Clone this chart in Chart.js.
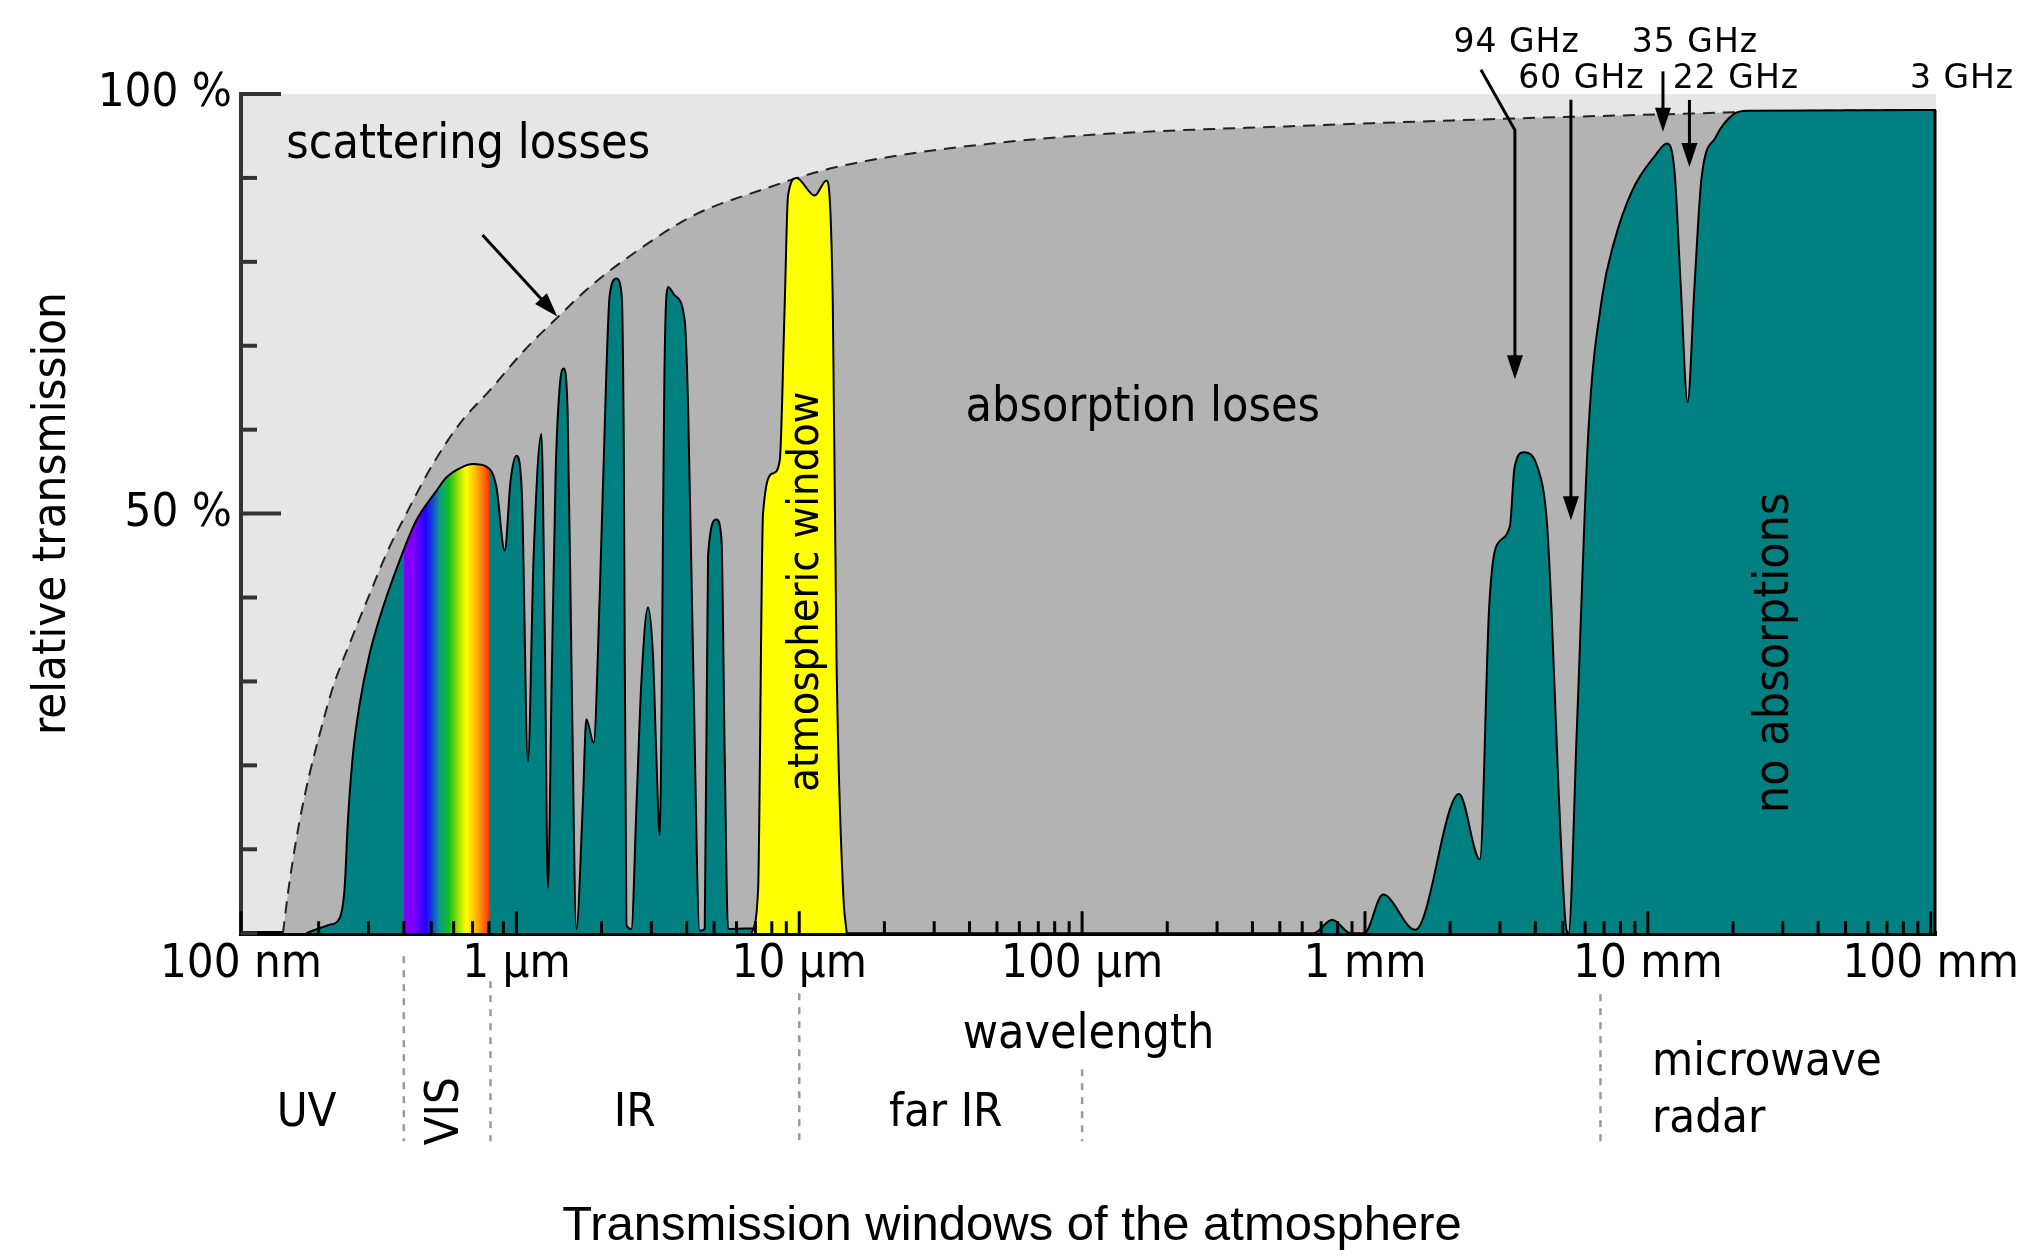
<!DOCTYPE html>
<html>
<head>
<meta charset="utf-8">
<title>Transmission windows of the atmosphere</title>
<script src="https://cdn.jsdelivr.net/npm/chart.js@4.4.1/dist/chart.umd.min.js"></script>
<style>
  html, body { margin: 0; padding: 0; background: #fff; }
  #wrap { width: 2024px; height: 1258px; }
</style>
</head>
<body>
<div id="wrap"><canvas id="atmosChart" width="2024" height="1258"></canvas></div>
<script>
// wavelengths in µm, transmission in %
const tealWavelength = [0.1809, 0.2016, 0.2187, 0.2372, 0.2471, 0.2538, 0.2644, 0.2792, 0.3029, 0.3375,
  0.3866, 0.4430, 0.5214, 0.5655, 0.6302, 0.7023, 0.7834, 0.8497, 0.9092, 0.9546, 1.0, 1.044, 1.099,
  1.151, 1.226, 1.259, 1.293, 1.333, 1.377, 1.422, 1.470, 1.518, 1.569,
  1.630, 1.716, 1.768, 1.876, 1.970, 2.081, 2.137, 2.258, 2.357, 2.395,
  2.449, 2.551, 2.657, 2.767, 2.920, 3.041, 3.126, 3.212, 3.346, 3.437,
  3.629, 3.937, 4.045, 4.213, 4.448, 4.634, 4.760, 5.096, 5.308, 5.453,
  5.601, 7.25, 15.09, 658.6, 765.6, 890.1, 996, 1157, 1506, 2151,
  2549, 2747, 2904, 3253, 3379, 3640, 4076, 4397, 4562, 4826,
  5108, 5243, 5615, 6161, 6900, 7577, 8810, 10630, 11677, 12437,
  13062, 13823, 14630, 15470, 17330, 20130, 22540, 104400];
const tealTransmission = [0, 0.6, 1, 1.8, 5.4, 13.4, 21.3, 27.3, 33.3, 38.8,
  44.4, 49.2, 52.7, 54.3, 55.4, 55.9, 55.6, 53.2, 45.6, 54, 56.9, 53, 20.5,
  45, 59.5, 37, 5.4, 30, 55, 65, 67.3, 62, 30,
  0.5, 15, 25.5, 22.7, 40, 67, 76, 78, 76, 60,
  1, 0.5, 15, 30, 38.8, 33, 21, 11.7, 69, 77,
  76, 73, 63, 33, 0.3, 0.5, 45, 49.3, 47, 21,
  0.5, 0.6, 0, 0, 1.6, 0, 0, 4.6, 0.4, 16.6,
  8.8, 38.7, 46, 48.5, 55.5, 57.3, 55.5, 49, 38.7, 17.7,
  1.5, 0, 24.6, 59.7, 75.9, 82.2, 88.5, 92.7, 94.1, 90.6,
  77.3, 63.3, 77.3, 89.9, 94.8, 97.6, 98, 98.1];

const windowWavelength = [6.776, 7.151, 7.447, 8.079, 8.531, 8.887, 9.129, 9.775, 11.34, 12.48, 13.14, 13.54, 14.29, 14.72];
const windowTransmission = [0, 5, 50, 54.8, 56.3, 75, 87.9, 90, 87.9, 89.7, 75, 33, 5, 0];

const scatterWavelength = [0.1495, 0.1579, 0.1713, 0.1858, 0.2016, 0.2246, 0.2573, 0.3029, 0.3470, 0.4083,
  0.5071, 0.6302, 0.8113, 1.070, 1.400, 1.816, 2.449, 4.213, 7.250, 12.48,
  22.67, 51.17, 115.5, 588.6, 3444, 11875, 24910, 104400];
const scatterTransmission = [0, 6.2, 13.4, 19, 23.7, 29.3, 34.5, 40.4, 45.2, 50,
  55.9, 60.7, 64.8, 69.5, 73.4, 77, 80.4, 85.5, 88.5, 91,
  92.7, 94.2, 95.2, 96.2, 97.1, 97.6, 97.9, 98.1];

const decadeValues = [0.1, 1, 10, 100, 1000, 10000, 100000];
const decadeLabels = ['100 nm', '1 µm', '10 µm', '100 µm', '1 mm', '10 mm', '100 mm'];
const minorSteps = [2, 3, 4, 5, 6, 7, 8, 9];
const yLabelValues = [50, 100];
const yLabelTexts = ['50 %', '100 %'];
const X_MIN = 0.1063, X_MAX = 104400;
const VIS_FROM = 0.4, VIS_TO = 0.81;

// spectral regions under the axis
const regionBounds = [0.4, 0.81, 10, 100, 6800];
const regionNames = ['UV', 'VIS', 'IR', 'far IR'];
const regionCenters = [0.1813, 0.565, 2.62, 32.96];
const microwaveAt = 10340;

// frequency markers on top
const ghzLabels = ['94 GHz', '60 GHz', '35 GHz', '22 GHz', '3 GHz'];
const ghzLabelX = [3437, 5824, 14670, 20490, 129000];
const ghzLabelY = [106, 101.7, 106, 101.7, 101.7];
const ghzArrows = [
  [[2570, 102.9], [3389, 95.7], [3389, 66.0]],
  [[5346, 99.3], [5346, 49.2]],
  [[11310, 102.7], [11310, 95.5]],
  [[14030, 99.3], [14030, 91.3]]
];
const scatterArrow = [[0.759, 83.2], [1.395, 73.5]];

const TEAL = '#008080';
const spectrumStops = [0, 0.12, 0.25, 0.34, 0.42, 0.52, 0.63, 0.72, 0.82, 0.92, 1];
const spectrumColors = ['#8000ff', '#8000ff', '#2000ff', '#1050d0', '#10a080', '#10c020',
  '#a0e000', '#ffff00', '#ffc000', '#ff7000', '#ff2000'];

// the picture uses a narrow sans, take the condensed face when it is there
const probe = document.createElement('canvas').getContext('2d');
function measure(family) { probe.font = '40px ' + family; return probe.measureText('scattering losses').width; }
const hasCondensed = measure('"DejaVu Sans Condensed", monospace') !== measure('monospace');
const SANS = hasCondensed ? '"DejaVu Sans Condensed", "DejaVu Sans"' : '"DejaVu Sans"';
const sz = n => Math.round(hasCondensed ? n / 0.92 : n);

const toPoints = (xs, ys) => xs.map((x, i) => ({x: x, y: ys[i]}));

function spectrumFill(context) {
  const chart = context.chart;
  const area = chart.chartArea;
  if (!area || !chart.scales.x) return TEAL;
  const xs = chart.scales.x;
  const w = area.right - area.left;
  const f = px => Math.min(1, Math.max(0, (px - area.left) / w));
  const x0 = xs.getPixelForValue(VIS_FROM), x1 = xs.getPixelForValue(VIS_TO);
  const g = chart.ctx.createLinearGradient(area.left, 0, area.right, 0);
  g.addColorStop(0, TEAL);
  g.addColorStop(f(x0), TEAL);
  spectrumStops.forEach((s, i) => g.addColorStop(f(x0 + (x1 - x0) * s), spectrumColors[i]));
  g.addColorStop(f(x1), TEAL);
  g.addColorStop(1, TEAL);
  return g;
}

function drawArrow(ctx, pts) {
  const n = pts.length;
  const [x1, y1] = pts[n - 2], [x2, y2] = pts[n - 1];
  const a = Math.atan2(y2 - y1, x2 - x1);
  const len = 24, half = 8;
  ctx.beginPath();
  ctx.moveTo(pts[0][0], pts[0][1]);
  for (let i = 1; i < n - 1; i++) ctx.lineTo(pts[i][0], pts[i][1]);
  ctx.lineTo(x2 - len * 0.7 * Math.cos(a), y2 - len * 0.7 * Math.sin(a));
  ctx.stroke();
  ctx.beginPath();
  ctx.moveTo(x2, y2);
  ctx.lineTo(x2 - len * Math.cos(a) + half * Math.sin(a), y2 - len * Math.sin(a) - half * Math.cos(a));
  ctx.lineTo(x2 - len * Math.cos(a) - half * Math.sin(a), y2 - len * Math.sin(a) + half * Math.cos(a));
  ctx.closePath();
  ctx.fill();
}

function drawText(ctx, text, x, y, font, opts) {
  opts = opts || {};
  ctx.save();
  ctx.font = font;
  ctx.fillStyle = opts.color || '#000';
  ctx.textAlign = opts.align || 'center';
  ctx.textBaseline = 'middle';
  if (opts.spacing) ctx.letterSpacing = opts.spacing;
  ctx.translate(x, y);
  if (opts.rotate) ctx.rotate(-Math.PI / 2);
  ctx.fillText(text, 0, 0);
  ctx.restore();
}

const decorations = {
  id: 'decorations',
  beforeDraw(chart) {
    const {ctx, chartArea: a} = chart;
    ctx.save();
    ctx.fillStyle = '#e6e6e6';
    ctx.fillRect(a.left, a.top, a.right - a.left, a.bottom - a.top);
    ctx.restore();
  },
  afterDatasetsDraw(chart) {
    const {ctx, chartArea: a} = chart;
    const xs = chart.scales.x, ys = chart.scales.y;
    const P = (p) => [xs.getPixelForValue(p[0]), ys.getPixelForValue(p[1])];
    ctx.save();
    // closing edge of the teal area
    ctx.strokeStyle = '#000';
    ctx.lineWidth = 3;
    const lastT = tealTransmission[tealTransmission.length - 1];
    ctx.beginPath();
    ctx.moveTo(a.right - 1, ys.getPixelForValue(lastT));
    ctx.lineTo(a.right - 1, a.bottom);
    ctx.stroke();
    // inward tick marks
    xs.ticks.forEach(t => {
      const px = xs.getPixelForValue(t.value);
      ctx.beginPath();
      ctx.moveTo(px, a.bottom);
      ctx.lineTo(px, a.bottom - (t.major ? 22 : 12));
      ctx.stroke();
    });
    ctx.strokeStyle = '#333';
    ctx.lineWidth = 4;
    ys.ticks.forEach(t => {
      const py = ys.getPixelForValue(t.value);
      ctx.beginPath();
      ctx.moveTo(a.left, py);
      ctx.lineTo(a.left + (yLabelValues.includes(t.value) ? 40 : 16), py);
      ctx.stroke();
    });
    // labels inside the plot
    const big = sz(44) + 'px ' + SANS;
    let p = P([0.676, 93.8]);
    drawText(ctx, 'scattering losses', p[0], p[1], big);
    p = P([163.9, 62.5]);
    drawText(ctx, 'absorption loses', p[0], p[1], big);
    p = P([10.6, 40.7]);
    drawText(ctx, 'atmospheric window', p[0], p[1], sz(40) + 'px ' + SANS, {rotate: true});
    p = P([28380, 33.4]);
    drawText(ctx, 'no absorptions', p[0], p[1], big, {rotate: true});
    ctx.strokeStyle = '#000';
    ctx.fillStyle = '#000';
    ctx.lineWidth = 3;
    drawArrow(ctx, scatterArrow.map(P));
    ctx.restore();
  },
  afterDraw(chart) {
    const {ctx, chartArea: a} = chart;
    const xs = chart.scales.x, ys = chart.scales.y;
    const P = (p) => [xs.getPixelForValue(p[0]), ys.getPixelForValue(p[1])];
    ctx.save();
    // frequency markers
    ctx.strokeStyle = '#000';
    ctx.fillStyle = '#000';
    ctx.lineWidth = 3;
    ghzArrows.forEach(arr => drawArrow(ctx, arr.map(P)));
    ghzLabels.forEach((txt, i) => {
      const q = P([ghzLabelX[i], ghzLabelY[i]]);
      drawText(ctx, txt, q[0], q[1], '33px "DejaVu Sans"', {spacing: '1px'});
    });
    // region separators
    const starts = [23, 48, 60, 136, 61];
    ctx.strokeStyle = '#999';
    ctx.lineWidth = 2.5;
    ctx.setLineDash([7, 7]);
    regionBounds.forEach((b, i) => {
      const px = xs.getPixelForValue(b);
      ctx.beginPath();
      ctx.moveTo(px, a.bottom + starts[i]);
      ctx.lineTo(px, a.bottom + 208);
      ctx.stroke();
    });
    ctx.setLineDash([]);
    const lab = sz(43) + 'px ' + SANS;
    regionNames.forEach((name, i) => {
      const px = xs.getPixelForValue(regionCenters[i]);
      drawText(ctx, name, px, a.bottom + (name === 'VIS' ? 178 : 181), lab, {rotate: name === 'VIS'});
    });
    const mx = xs.getPixelForValue(microwaveAt);
    drawText(ctx, 'microwave', mx, a.bottom + 130, lab, {align: 'left'});
    drawText(ctx, 'radar', mx, a.bottom + 187, lab, {align: 'left'});
    ctx.restore();
  }
};

new Chart(document.getElementById('atmosChart'), {
  type: 'line',
  data: {
    datasets: [{
      label: 'scattering',
      data: toPoints(scatterWavelength, scatterTransmission),
      borderColor: '#222',
      borderWidth: 2,
      borderDash: [12, 8],
      backgroundColor: '#b3b3b3',
      fill: 'origin',
      order: 3
    }, {
      label: 'transmission',
      data: toPoints(tealWavelength, tealTransmission),
      borderColor: '#000',
      borderWidth: 2,
      backgroundColor: spectrumFill,
      fill: 'origin',
      order: 2
    }, {
      label: 'atmospheric window',
      data: toPoints(windowWavelength, windowTransmission),
      borderColor: '#000',
      borderWidth: 2,
      backgroundColor: '#ffff00',
      fill: 'origin',
      order: 1
    }]
  },
  options: {
    responsive: false,
    animation: false,
    events: [],
    layout: { padding: { top: 94, right: 0, left: 0, bottom: 0 } },
    elements: {
      point: { radius: 0, hoverRadius: 0 },
      line: { cubicInterpolationMode: 'monotone' }
    },
    plugins: {
      legend: { display: false },
      tooltip: { enabled: false },
      title: {
        display: true,
        text: 'Transmission windows of the atmosphere',
        position: 'bottom',
        color: '#000',
        font: { family: '"Liberation Sans", Arial, sans-serif', size: 49, weight: 'normal' },
        padding: { top: 0, bottom: 2 }
      }
    },
    scales: {
      x: {
        type: 'logarithmic',
        min: X_MIN,
        max: X_MAX,
        z: 1,
        grid: { display: false, drawTicks: false },
        border: { display: true, color: '#000', width: 5 },
        afterBuildTicks(scale) {
          const ticks = [];
          decadeValues.forEach((d, i) => {
            ticks.push({ value: Math.max(d, X_MIN), major: true });
            if (i < decadeValues.length - 1) minorSteps.forEach(m => ticks.push({ value: d * m, major: false }));
          });
          scale.ticks = ticks;
        },
        afterFit(scale) { scale.height = 264; },
        ticks: {
          autoSkip: false,
          maxRotation: 0,
          padding: 3,
          color: '#000',
          font: { family: SANS, size: sz(43) },
          callback(value) {
            const i = decadeValues.findIndex(d => Math.max(d, X_MIN) === value);
            return i >= 0 ? decadeLabels[i] : '';
          }
        },
        title: {
          display: true,
          text: 'wavelength',
          color: '#000',
          font: { family: SANS, size: sz(44) },
          padding: { top: 0, bottom: 133 }
        }
      },
      y: {
        type: 'linear',
        min: 0,
        max: 100,
        z: 1,
        grid: { display: false, drawTicks: false },
        border: { display: true, color: '#333', width: 4 },
        afterFit(scale) { scale.width = 241; },
        ticks: {
          stepSize: 10,
          autoSkip: false,
          padding: 9,
          color: '#000',
          font: { family: SANS, size: sz(43) },
          callback(value) {
            const i = yLabelValues.indexOf(value);
            return i >= 0 ? yLabelTexts[i] : '';
          }
        },
        title: {
          display: true,
          text: 'relative transmission',
          color: '#000',
          font: { family: SANS, size: sz(43) },
          padding: { top: 25, bottom: 0 }
        }
      },
      // empty right margin, keeps the page title centred on the whole picture
      margin: {
        type: 'linear',
        position: 'right',
        min: 0,
        max: 1,
        grid: { display: false, drawTicks: false },
        border: { display: false },
        ticks: { display: false },
        afterFit(scale) { scale.width = 88; }
      }
    }
  },
  plugins: [decorations]
});
</script>
</body>
</html>
